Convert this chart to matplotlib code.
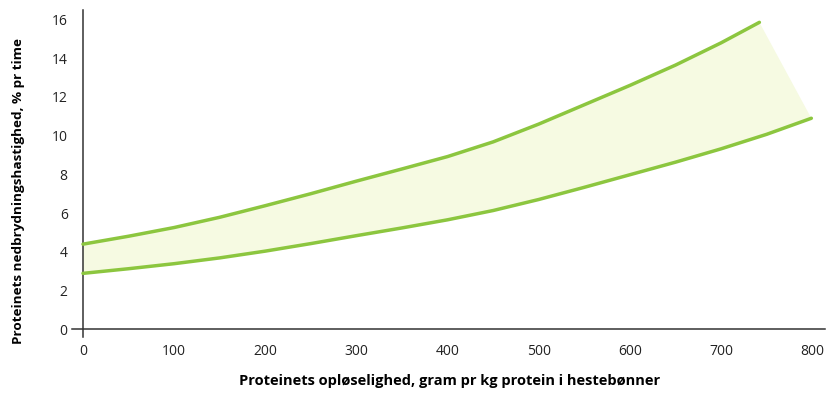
import matplotlib
matplotlib.use("Agg")
import matplotlib.pyplot as plt

plt.rcParams["font.family"] = ["Open Sans", "DejaVu Sans"]

# upper and lower boundary of the band
upper_x = [0, 50, 100, 150, 200, 250, 300, 350, 400, 450, 500, 550, 600, 650, 700, 742]
upper_y = [4.39, 4.8, 5.25, 5.78, 6.38, 7.0, 7.65, 8.28, 8.92, 9.68, 10.6, 11.6, 12.6, 13.65, 14.8, 15.86]
lower_x = [0, 50, 100, 150, 200, 250, 300, 350, 400, 450, 500, 550, 600, 650, 700, 750, 799]
lower_y = [2.88, 3.12, 3.38, 3.68, 4.03, 4.42, 4.83, 5.23, 5.65, 6.13, 6.7, 7.33, 7.98, 8.63, 9.32, 10.07, 10.9]

xticks = [0, 100, 200, 300, 400, 500, 600, 700, 800]
yticks = [0, 2, 4, 6, 8, 10, 12, 14, 16]

line_col = "#8cc63f"
fill_col = "#f6fae2"

fig = plt.figure(figsize=(8.27, 3.94), dpi=100)
ax = fig.add_axes([0.0871, 0.1447, 0.9105, 0.83])

# band between the two curves
poly_x = upper_x + lower_x[::-1]
poly_y = upper_y + lower_y[::-1]
ax.fill(poly_x, poly_y, color=fill_col, lw=0, zorder=1)

ax.plot(upper_x, upper_y, color=line_col, lw=2.5, solid_capstyle="round",
        solid_joinstyle="round", zorder=3)
ax.plot(lower_x, lower_y, color=line_col, lw=2.5, solid_capstyle="round",
        solid_joinstyle="round", zorder=3)

ax.set_xlim(-12, 814)
ax.set_ylim(-0.41, 16.5)
ax.spines["top"].set_visible(False)
ax.spines["right"].set_visible(False)
ax.spines["left"].set_position(("data", 0))
ax.spines["bottom"].set_position(("data", 0))
for s in ["left", "bottom"]:
    ax.spines[s].set_color("#333333")
    ax.spines[s].set_linewidth(1.1)

ax.set_xticks(xticks)
ax.set_yticks(yticks)
ax.tick_params(length=0, labelsize=10, colors="#222222", pad=11)

ax.set_xlabel("Proteinets opløselighed, gram pr kg protein i hestebønner",
              fontsize=10.5, fontweight="bold", va="center")
ax.xaxis.set_label_coords(0.502, -0.1346)
ax.set_ylabel("Proteinets nedbrydningshastighed, % pr time",
              fontsize=9.7, fontweight="bold", va="center")
ax.yaxis.set_label_coords(-0.0717, 0.446)

plt.savefig("out.png", dpi=100)
